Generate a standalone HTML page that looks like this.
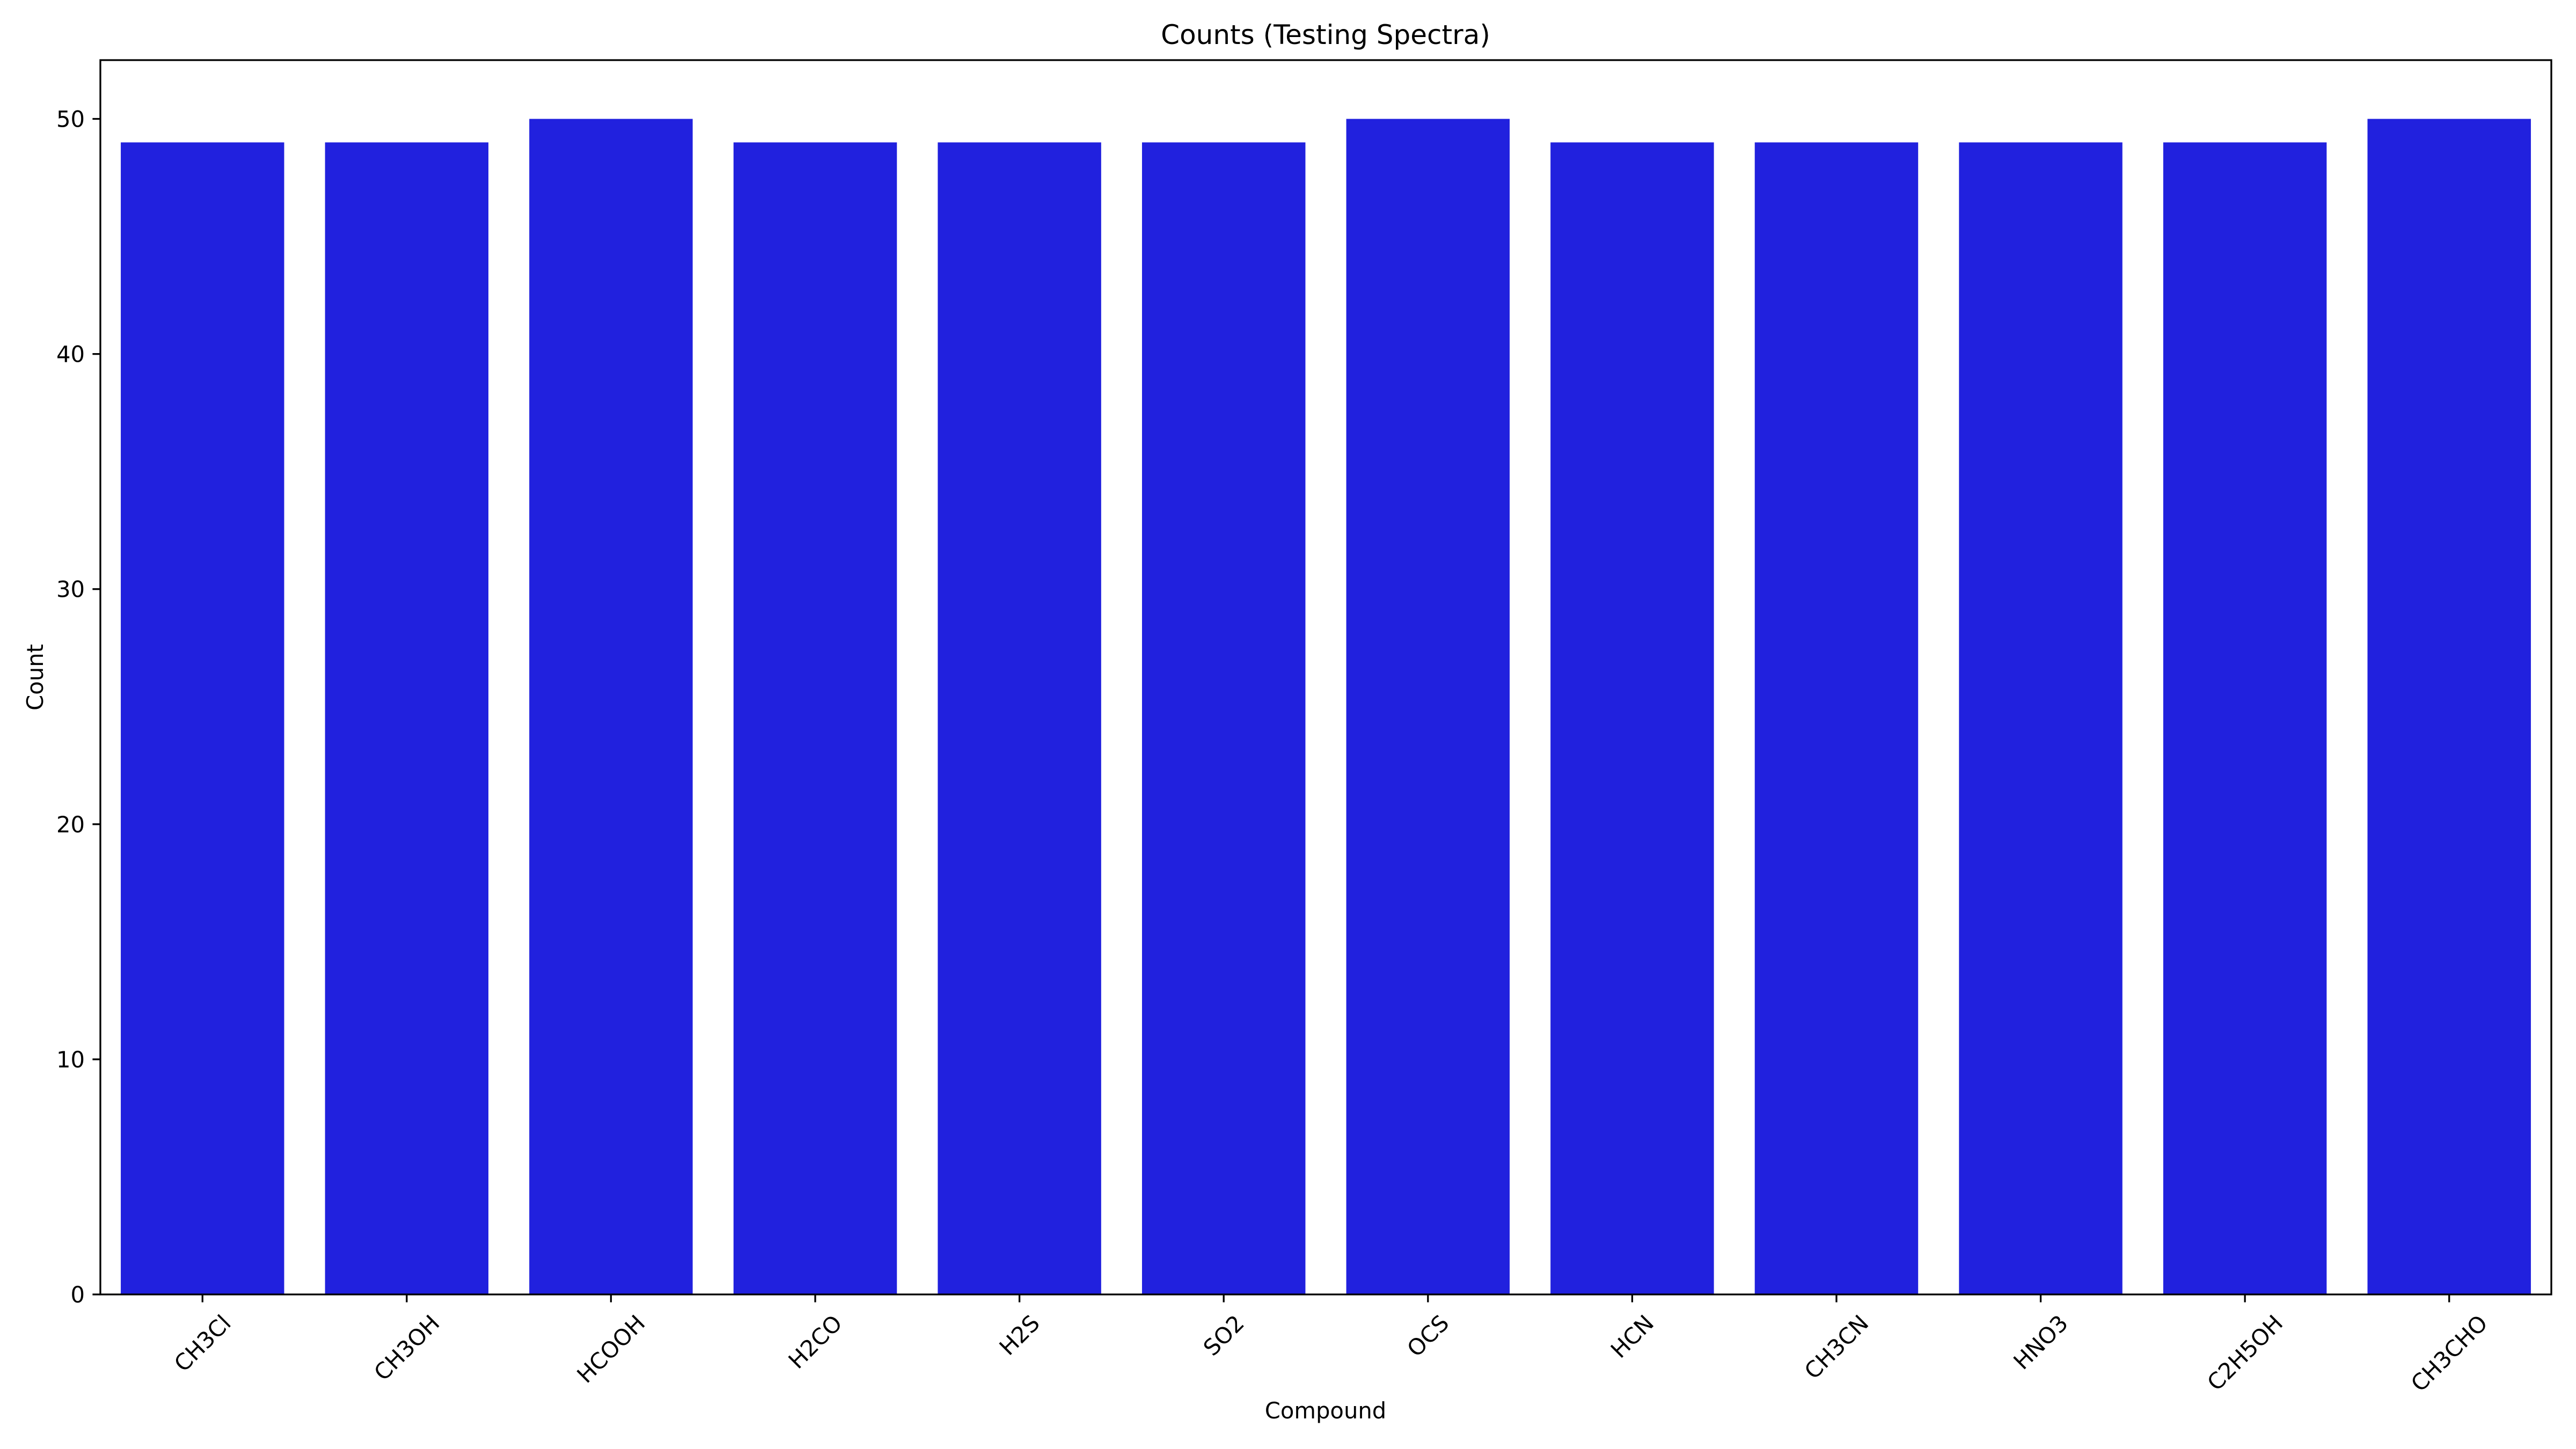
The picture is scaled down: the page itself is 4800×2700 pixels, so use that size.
<!DOCTYPE html>
<html><head><meta charset="utf-8"><style>
html,body{margin:0;padding:0;background:#fff;}
svg{display:block;font-family:"DejaVu Sans","Liberation Sans",sans-serif;}
</style></head><body>
<svg id="chart" width="4800" height="2700" viewBox="0 0 4800 2700" xmlns="http://www.w3.org/2000/svg">
<rect width="4800" height="2700" fill="#fff"/>
<text x="2470" y="82" font-size="50" text-anchor="middle">Counts (Testing Spectra)</text>
<text x="2470" y="2643" font-size="41.7" text-anchor="middle">Compound</text>
<text x="0" y="0" font-size="41.7" text-anchor="middle" transform="translate(80,1262) rotate(-90)">Count</text>
<g id="bars"></g>
<g id="yticks"></g>
<g id="xticks"></g>
<rect x="187" y="112" width="4567" height="2300" fill="none" stroke="#000" stroke-width="3.3"/>
</svg>
<script>
const categories = ["CH3Cl","CH3OH","HCOOH","H2CO","H2S","SO2","OCS","HCN","CH3CN","HNO3","C2H5OH","CH3CHO"];
const counts = [49,49,50,49,49,49,50,49,49,49,49,50];
const yTicks = [0,10,20,30,40,50];

const L=187,R=4754,T=112,B=2412,yMax=52.5;
const ns="http://www.w3.org/2000/svg";
function xs(i){return L+(i+0.5)*(R-L)/categories.length;}
function ys(v){return B-v*(B-T)/yMax;}
const bw=0.8*(R-L)/categories.length;
const gb=document.getElementById('bars'),gy=document.getElementById('yticks'),gx=document.getElementById('xticks');
counts.forEach((v,i)=>{
  const r=document.createElementNS(ns,'rect');
  r.setAttribute('x',xs(i)-bw/2);r.setAttribute('y',ys(v));
  r.setAttribute('width',bw);r.setAttribute('height',B-ys(v));
  r.setAttribute('fill','#2121de');
  
  
  gb.appendChild(r);
});
yTicks.forEach(t=>{
  const l=document.createElementNS(ns,'line');
  l.setAttribute('x1',L-14.6);l.setAttribute('x2',L);l.setAttribute('y1',ys(t));l.setAttribute('y2',ys(t));
  l.setAttribute('stroke','#000');l.setAttribute('stroke-width','3.3');
  
  
  gy.appendChild(l);
  const tx=document.createElementNS(ns,'text');
  tx.setAttribute('x',L-29);tx.setAttribute('y',ys(t)+15);
  tx.setAttribute('font-size','41.7');tx.setAttribute('text-anchor','end');
  tx.textContent=t;
  
  
  gy.appendChild(tx);
});
categories.forEach((c,i)=>{
  const x=xs(i);
  const l=document.createElementNS(ns,'line');
  l.setAttribute('x1',x);l.setAttribute('x2',x);l.setAttribute('y1',B);l.setAttribute('y2',B+14.6);
  l.setAttribute('stroke','#000');l.setAttribute('stroke-width','3.3');
  
  
  gx.appendChild(l);
  const tx=document.createElementNS(ns,'text');
  tx.setAttribute('font-size','41.7');tx.setAttribute('text-anchor','middle');
  tx.setAttribute('dominant-baseline','central');
  tx.textContent=c;
  
  
  gx.appendChild(tx);
  const w=tx.getComputedTextLength();
  const h=48;
  const cy=B+29+(w+h)*0.7071/2;
  tx.setAttribute('x',0);tx.setAttribute('y',0);
  tx.setAttribute('transform','translate('+x+','+cy+') rotate(-45)');
});
</script>
</body></html>
